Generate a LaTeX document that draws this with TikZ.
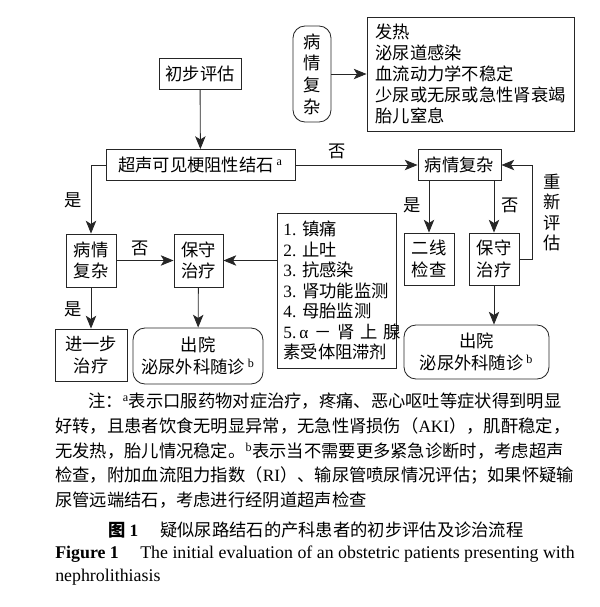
\documentclass[tikz,border=0pt]{standalone}
\usepackage{fontspec}
\setmainfont{Liberation Serif}
\newfontfamily\cjk{Noto Sans CJK SC}
\usetikzlibrary{arrows.meta}
\newcommand{\en}[1]{{\rmfamily #1}}
\begin{document}
\begin{tikzpicture}[x=0.025cm, y=-0.025cm,
    font=\cjk\fontsize{12.3}{15.4}\selectfont,
    every node/.style={inner sep=0pt},
    box/.style={draw=black!85, line width=0.6pt, align=center},
    roundbox/.style={box, rounded corners=0.3cm},
    link/.style={draw=black!85, line width=0.6pt, -{Stealth[length=3.2mm,width=2.6mm,inset=0.8mm]}},
    note/.style={anchor=west}]
    \useasboundingbox (0,0) rectangle (600,607);

    % flow boxes
    \node[box, minimum width=2.05cm, minimum height=0.775cm] (init) at (200,73.5) {初步评估};
    \node[box, minimum width=4.725cm, minimum height=0.775cm] (us) at (200.5,165) {超声可见梗阻性结石\,\en{\textsuperscript{a}}};
    \node[roundbox, minimum width=0.95cm, minimum height=2.4cm] (cplxT) at (312,74) {病\\情\\复\\杂};
    \node[box, minimum width=5.175cm, minimum height=2.85cm, text width=4.75cm, align=left,
          font=\cjk\fontsize{12.3}{14.9}\selectfont] (sym) at (470.5,74)
        {发热\\泌尿道感染\\血流动力学不稳定\\少尿或无尿或急性肾衰竭\\胎儿窒息};
    \node[box, minimum width=2.075cm, minimum height=0.775cm] (cplx2) at (459.5,165) {病情复杂};
    \node[box, minimum width=1.25cm, minimum height=1.3cm] (second) at (429,259) {二线\\检查};
    \node[box, minimum width=1.25cm, minimum height=1.3cm] (consR) at (494,259) {保守\\治疗};
    \node[roundbox, minimum width=3.625cm, minimum height=1.35cm] (outR) at (476.5,352) {出院\\泌尿外科随诊\,\en{\textsuperscript{b}}};
    \node[box, minimum width=2.975cm, minimum height=3.875cm, text width=2.65cm, align=left,
          font=\cjk\fontsize{12.3}{14.6}\selectfont] (care) at (336.5,290.5)
        {\en{1.\ }镇痛\\\en{2.\ }止吐\\\en{3.\ }抗感染\\\en{3.\ }肾功能监测\\\en{4.\ }母胎监测\\
         \makebox[2.65cm][s]{\en{5.\,α} － 肾 上 腺}\\素受体阻滞剂};
    \node[box, minimum width=1.25cm, minimum height=1.325cm] (cplxL) at (91,260.5) {病情\\复杂};
    \node[box, minimum width=1.225cm, minimum height=1.325cm] (consL) at (198.5,260.5) {保守\\治疗};
    \node[box, minimum width=1.8cm, minimum height=1.3cm] (further) at (91,355) {进一步\\治疗};
    \node[roundbox, minimum width=3.25cm, minimum height=1.4cm] (outL) at (198,356) {出院\\泌尿外科随诊\,\en{\textsuperscript{b}}};

    % connectors
    \draw[link] (init) -- (us);
    \draw[link] (cplxT) -- (sym);
    \draw[link] (us) -- (cplx2);
    \draw[link] (us.west) -| (cplxL.north);
    \draw[link] (cplxL) -- (consL);
    \draw[link] (cplxL) -- (further);
    \draw[link] (consL) -- (outL);
    \draw[link] (care.west |- consL) -- (consL);
    \draw[link] (cplx2.south -| second) -- (second);
    \draw[link] (cplx2.south -| consR) -- (consR);
    \draw[link] (consR) -- (consR |- outR.north);
    \draw[link] (consR.east) -- ++(13,0) |- (cplx2.east);

    % labels
    \node (no1) at (337,151) {否};
    \node (yes1) at (73,200) {是};
    \node (no2) at (140,248) {否};
    \node (yes2) at (73,309) {是};
    \node (yes3) at (412,205) {是};
    \node (no3) at (510,205) {否};
    \node[align=center, font=\cjk\fontsize{12.3}{14.6}\selectfont] (again) at (552,212.5) {重\\新\\评\\估};

    % notes and caption
    \node[note] (n1) at (88,401) {注：\en{\textsuperscript{a}}表示口服药物对症治疗，疼痛、恶心呕吐等症状得到明显};
    \node[note] (n2) at (55,426) {好转，且患者饮食无明显异常，无急性肾损伤（\en{AKI}），肌酐稳定，};
    \node[note] (n3) at (55,451) {无发热，胎儿情况稳定。\en{\textsuperscript{b}}表示当不需要更多紧急诊断时，考虑超声};
    \node[note] (n4) at (55,475) {检查，附加血流阻力指数（\en{RI}）、输尿管喷尿情况评估；如果怀疑输};
    \node[note] (n5) at (55,500) {尿管远端结石，考虑进行经阴道超声检查};
    \node[note, font=\cjk\bfseries\fontsize{12.3}{15}\selectfont] (figzh) at (108,530) {图 \en{\textbf{1}}};
    \node[note] (titlezh) at (160,530) {疑似尿路结石的产科患者的初步评估及诊治流程};
    \node[note, font=\rmfamily\bfseries\fontsize{12.7}{15}\selectfont] (figen) at (55,554) {Figure 1};
    \node[note, font=\rmfamily\fontsize{12.7}{15}\selectfont] (titleen) at (140,554) {The initial evaluation of an obstetric patients presenting with};
    \node[note, font=\rmfamily\fontsize{12.7}{15}\selectfont] (titleen2) at (55,577) {nephrolithiasis};
\end{tikzpicture}
\end{document}
